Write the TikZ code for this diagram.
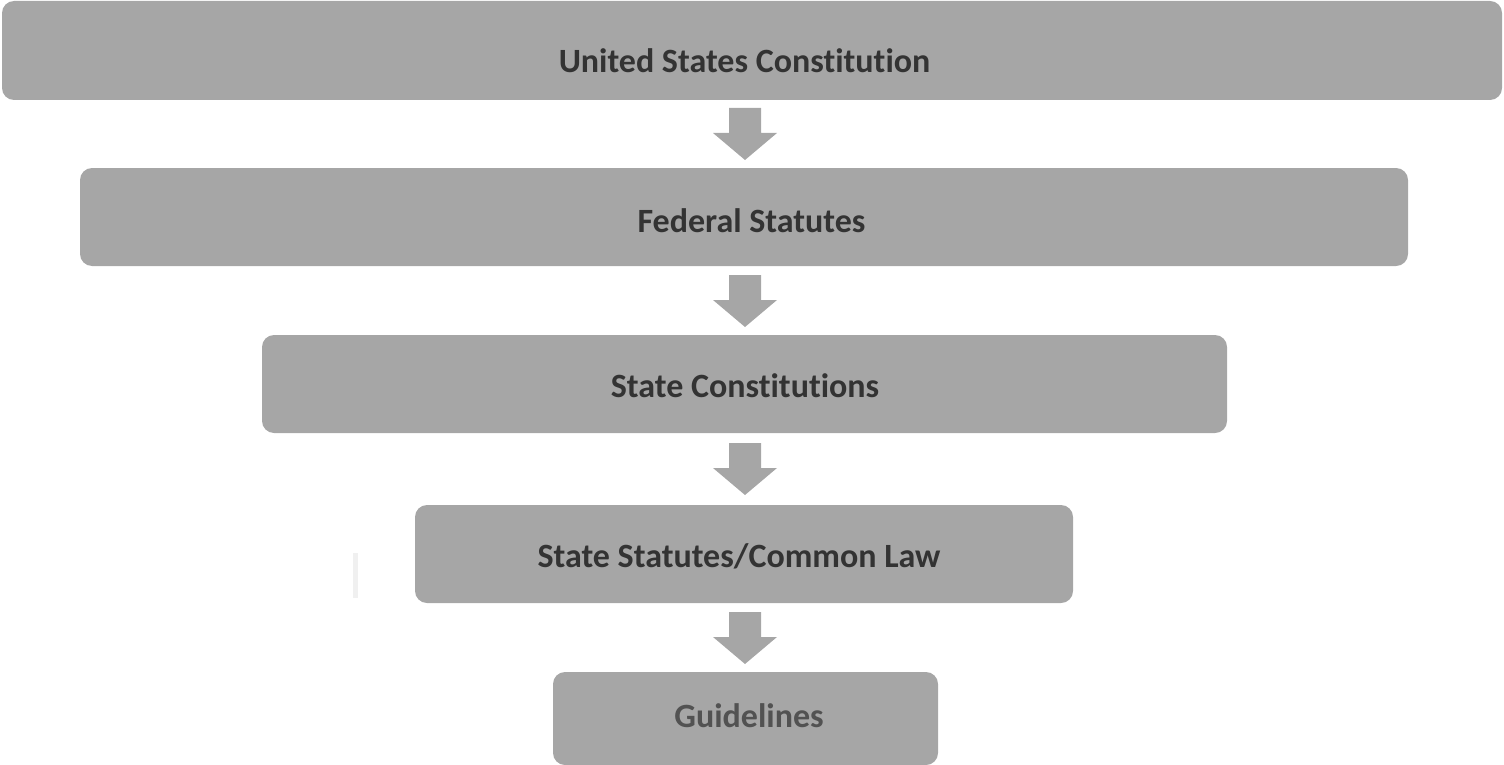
\documentclass[tikz,border=0pt]{standalone}
\usepackage{fontspec}
\setmainfont{Carlito}[Ligatures=NoCommon]
\begin{document}
\begin{tikzpicture}[x=1pt,y=-1pt,
  tier/.style={fill=boxgray, draw=none, rounded corners=12pt},
  tierlabel/.style={font=\bfseries\fontsize{34}{40}\selectfont, text=txtgray, anchor=base, inner sep=0pt},
  downarrow/.style={fill=boxgray, draw=none}]
\definecolor{boxgray}{HTML}{A6A6A6}
\definecolor{txtgray}{HTML}{333333}
\definecolor{faint}{HTML}{F0F0F0}
\useasboundingbox (0,0) rectangle (1504,765);
% boxes
\fill[tier] (2,1) rectangle (1502,100);
\node[tierlabel] (t1) at (744.5,73) {United States Constitution};
\fill[tier] (80,168) rectangle (1408,266);
\node[tierlabel] (t2) at (751.5,232) {Federal Statutes};
\fill[tier] (262,335) rectangle (1227,433);
\node[tierlabel] (t3) at (745,397) {State Constitutions};
\fill[tier] (415,505) rectangle (1073,603);
\node[tierlabel] (t4) at (739,567) {State Statutes/Common Law};
\fill[tier] (553,672) rectangle (938,765);
\node[tierlabel, text=txtgray!85] (t5) at (749,727) {Guidelines};
% faint mark
\fill[faint] (353,553) rectangle (358,598);
% arrows
\foreach \y in {108,275,443,612}{
  \fill[downarrow] (729,\y) -- (761,\y) -- (761,\y+25) -- (777,\y+25) -- (745,\y+52) -- (713,\y+25) -- (729,\y+25) -- cycle;
}
\end{tikzpicture}
\end{document}
